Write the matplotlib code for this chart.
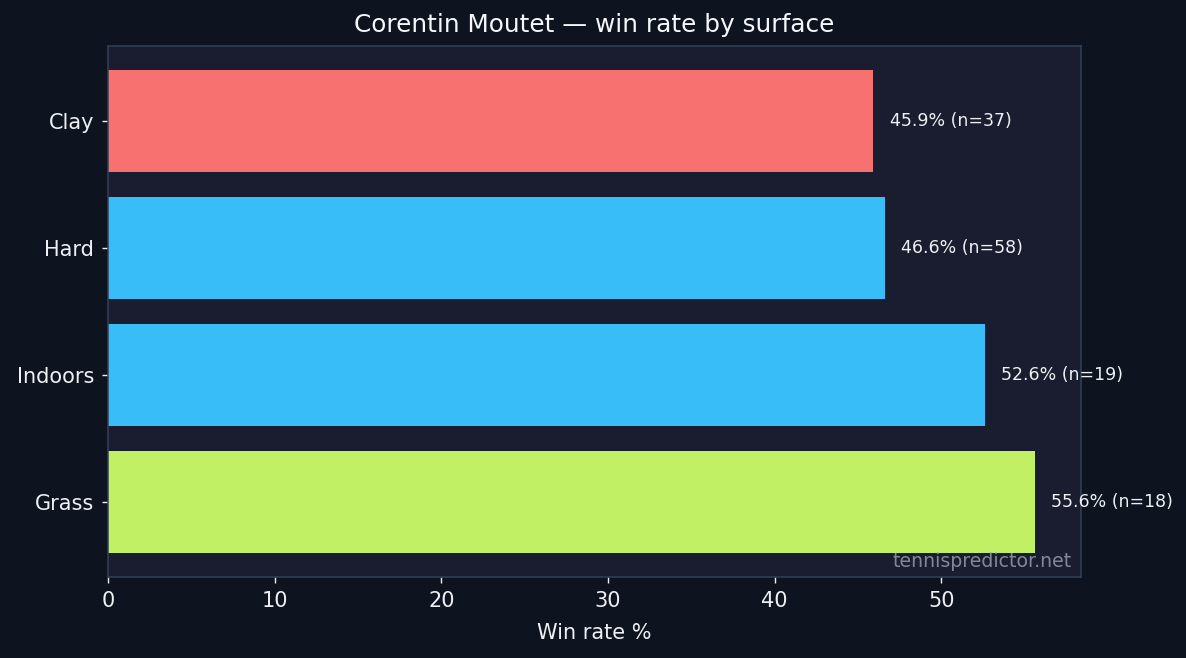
import matplotlib
matplotlib.use("Agg")
import matplotlib.pyplot as plt

plt.rcParams["font.family"] = ["DejaVu Sans"]

surfaces = ["Clay", "Hard", "Indoors", "Grass"]
win_rates = [45.9, 46.6, 52.6, 55.6]
matches = [37, 58, 19, 18]
colors = ["#f87171", "#38bdf8", "#38bdf8", "#c2f065"]

fig = plt.figure(figsize=(11.86, 6.58), dpi=100, facecolor="#0e1320")
ax = fig.add_axes([108/1186, 1 - 577/658, (1081-108)/1186, (577-46)/658])
ax.set_facecolor("#191d2f")

y = list(range(len(surfaces)))
ax.barh(y, win_rates, color=colors, height=0.8)
ax.set_yticks(y)
ax.set_yticklabels(surfaces)
ax.invert_yaxis()
ax.set_xlim(0, max(win_rates) * 1.05)

for yi, v, n in zip(y, win_rates, matches):
    ax.text(v + 1.0, yi, f"{v}% (n={n})", va="center", ha="left",
            color="#eef0f4", fontsize=12.5)

ax.set_xlabel("Win rate %", color="#eef0f4", fontsize=15, labelpad=8.5)
ax.set_title("Corentin Moutet — win rate by surface", color="#f5f7fa",
             fontsize=17.8, pad=10)
ax.tick_params(colors="#eef0f4", labelsize=15, length=4.5, width=1.0, pad=5.5)
for s in ax.spines.values():
    s.set_color("#334155")
    s.set_linewidth(1.1)

ax.text(0.99, 0.012, "tennispredictor.net", transform=ax.transAxes,
        ha="right", va="bottom", color="#9ca3af", alpha=0.8, fontsize=13.6)

fig.savefig("out.png", dpi=100, facecolor=fig.get_facecolor())
